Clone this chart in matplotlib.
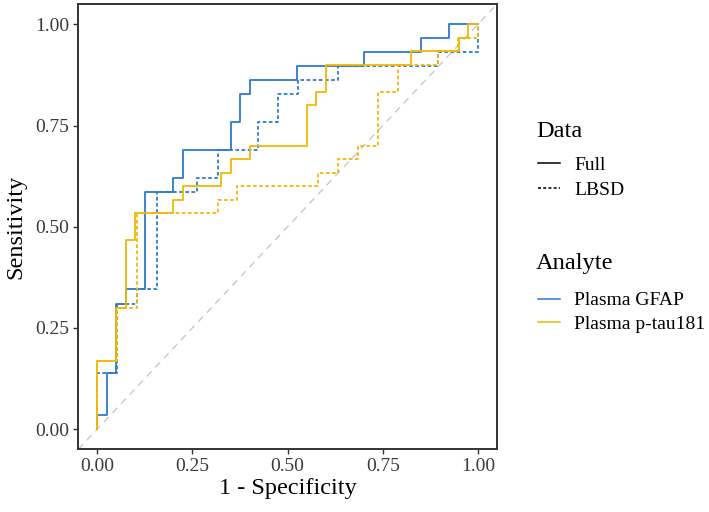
import matplotlib
matplotlib.use("Agg")
import matplotlib.pyplot as plt
from matplotlib.lines import Line2D

plt.rcParams["font.family"] = ["Liberation Serif", "DejaVu Serif"]

# ROC staircase corners (1 - specificity, sensitivity), drawn with step(where="post")
gfap_full_fpr = [0, 0, 0.025, 0.05, 0.075, 0.125, 0.2, 0.225, 0.35, 0.375, 0.4, 0.525, 0.7, 0.85, 0.925, 1.0]
gfap_full_tpr = [0, 0.034, 0.138, 0.310, 0.345, 0.586, 0.621, 0.690, 0.759, 0.828, 0.862, 0.897, 0.931, 0.966, 1.0, 1.0]

gfap_lbsd_fpr = [0, 0, 0.053, 0.105, 0.158, 0.263, 0.316, 0.421, 0.474, 0.526, 0.632, 0.895, 1.0]
gfap_lbsd_tpr = [0, 0.138, 0.310, 0.345, 0.586, 0.621, 0.690, 0.759, 0.828, 0.862, 0.897, 0.931, 1.0]

ptau_full_fpr = [0, 0, 0.05, 0.075, 0.1, 0.2, 0.225, 0.325, 0.35, 0.4, 0.55, 0.575, 0.6, 0.825, 0.95, 0.975, 1.0]
ptau_full_tpr = [0, 0.167, 0.3, 0.467, 0.533, 0.567, 0.6, 0.633, 0.667, 0.7, 0.8, 0.833, 0.9, 0.933, 0.967, 1.0, 1.0]

ptau_lbsd_fpr = [0, 0, 0.053, 0.105, 0.316, 0.368, 0.579, 0.632, 0.684, 0.737, 0.789, 0.895, 0.947, 1.0]
ptau_lbsd_tpr = [0, 0.167, 0.3, 0.533, 0.567, 0.6, 0.633, 0.667, 0.7, 0.833, 0.9, 0.933, 0.967, 1.0]

ticks = [0.0, 0.25, 0.5, 0.75, 1.0]
tick_labels = ["0.00", "0.25", "0.50", "0.75", "1.00"]

blue = "#2B7BCB"
gold = "#F2B705"
dots = (0, (2.0, 1.4))

fig = plt.figure(figsize=(7.09, 5.12), dpi=100)
ax = fig.add_axes([0.1104, 0.1225, 0.5906, 0.8695])

# chance line
ax.axline((0, 0), (1, 1), color="#C8C8C8", lw=1.0, linestyle=(0, (5, 4)), zorder=1)

ax.step(gfap_full_fpr, gfap_full_tpr, where="post", color=blue, lw=1.3, zorder=2)
ax.step(gfap_lbsd_fpr, gfap_lbsd_tpr, where="post", color=blue, lw=1.3, linestyle=dots, zorder=3)
ax.step(ptau_full_fpr, ptau_full_tpr, where="post", color=gold, lw=1.3, zorder=4)
ax.step(ptau_lbsd_fpr, ptau_lbsd_tpr, where="post", color=gold, lw=1.3, linestyle=dots, zorder=5)

ax.set_xlim(-0.05, 1.05)
ax.set_ylim(-0.05, 1.05)
ax.set_xticks(ticks)
ax.set_xticklabels(tick_labels)
ax.set_yticks(ticks)
ax.set_yticklabels(tick_labels)
ax.tick_params(length=3.6, width=1.0, color="#333333", labelsize=14, labelcolor="#3A3A3A", pad=3)
for s in ax.spines.values():
    s.set_color("#333333")
    s.set_linewidth(1.4)

ax.set_xlabel("1 - Specificity", fontsize=17.5, labelpad=2)
ax.set_ylabel("Sensitivity", fontsize=17.5, labelpad=6)

# legends
fig.text(0.756, 0.744, "Data", fontsize=17.6, va="center", ha="left")
data_handles = [Line2D([], [], color="black", lw=1.1),
                Line2D([], [], color="black", lw=1.1, linestyle=dots)]
fig.legend(data_handles, ["Full", "LBSD"], loc="upper left", bbox_to_anchor=(0.759, 0.694),
           frameon=False, fontsize=14, handlelength=1.1, handletextpad=0.75,
           labelspacing=0.36, borderpad=0, borderaxespad=0)

fig.text(0.756, 0.486, "Analyte", fontsize=17.6, va="center", ha="left")
an_handles = [Line2D([], [], color=blue, lw=1.1), Line2D([], [], color=gold, lw=1.1)]
fig.legend(an_handles, ["Plasma GFAP", "Plasma p-tau181"], loc="upper left",
           bbox_to_anchor=(0.759, 0.43), frameon=False, fontsize=14, handlelength=1.1,
           handletextpad=0.75, labelspacing=0.3, borderpad=0, borderaxespad=0)

fig.savefig("out.png", dpi=100)
